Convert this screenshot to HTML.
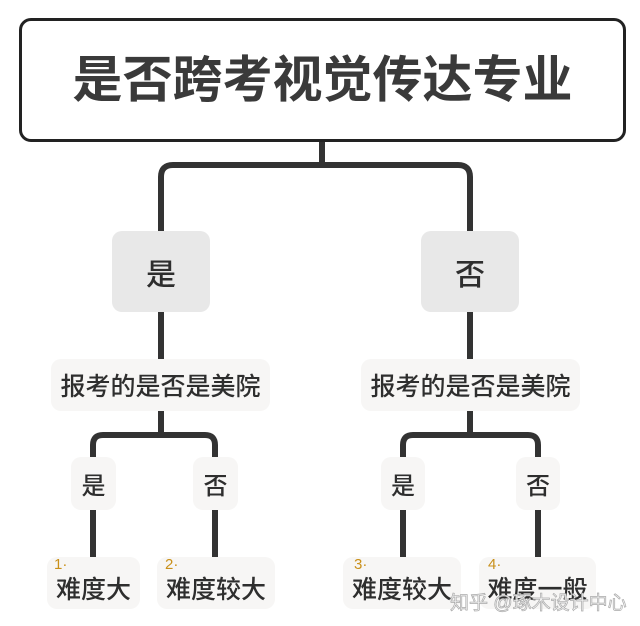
<!DOCTYPE html>
<html><head><meta charset="utf-8"><style>
*{margin:0;padding:0;box-sizing:border-box}
body{width:640px;height:626px;background:#fff;position:relative;overflow:hidden;font-family:"Liberation Sans","Noto Sans CJK SC",sans-serif;color:#2e2e2e;font-weight:500}
.b{position:absolute;display:flex;align-items:center;justify-content:center;border-radius:10px;white-space:nowrap}
.n{position:absolute;font-size:15px;color:#c9901a;line-height:1}
svg{position:absolute;left:0;top:0}
</style></head><body>
<svg width="640" height="626">
<g fill="none" stroke="#333" stroke-width="6" stroke-linejoin="round">
<path d="M322 142 V165"/>
<path d="M161 231 V177 Q161 165 173 165 H458 Q470 165 470 177 V231"/>
<path d="M161 312 V359"/><path d="M470 312 V359"/>
<path d="M161 411 V435"/><path d="M470 411 V435"/>
<path d="M93 457 V445 Q93 435 103 435 H205 Q215 435 215 445 V457"/>
<path d="M403 457 V445 Q403 435 413 435 H528 Q538 435 538 445 V457"/>
<path d="M93 510 V557"/><path d="M215 510 V557"/>
<path d="M403 510 V557"/><path d="M538 510 V557"/>
</g>
</svg>
<div class="b" style="left:19px;top:18px;width:607px;height:124px;border:3.5px solid #222;border-radius:12px;font-size:50px;font-weight:bold;color:#3a3a3a;padding-bottom:8px">是否跨考视觉传达专业</div>
<div class="b" style="left:112px;top:231px;width:98px;height:81px;background:#e8e8e8;font-size:30px">是</div>
<div class="b" style="left:421px;top:231px;width:98px;height:81px;background:#e8e8e8;font-size:30px">否</div>
<div class="b" style="left:51px;top:359px;width:219px;height:52px;background:#f7f6f5;font-size:25px">报考的是否是美院</div>
<div class="b" style="left:361px;top:359px;width:219px;height:52px;background:#f7f6f5;font-size:25px">报考的是否是美院</div>
<div class="b" style="left:71px;top:457px;width:45px;height:53px;background:#f7f6f5;font-size:24px">是</div>
<div class="b" style="left:193px;top:457px;width:45px;height:53px;background:#f7f6f5;font-size:24px">否</div>
<div class="b" style="left:381px;top:457px;width:44px;height:53px;background:#f7f6f5;font-size:24px">是</div>
<div class="b" style="left:516px;top:457px;width:44px;height:53px;background:#f7f6f5;font-size:24px">否</div>
<div class="b" style="left:47px;top:557px;width:93px;height:52px;background:#f7f6f5;font-size:25px;padding-top:10px">难度大</div>
<div class="b" style="left:157px;top:557px;width:118px;height:52px;background:#f7f6f5;font-size:25px;padding-top:10px">难度较大</div>
<div class="b" style="left:343px;top:557px;width:118px;height:52px;background:#f7f6f5;font-size:25px;padding-top:10px">难度较大</div>
<div class="b" style="left:479px;top:557px;width:117px;height:52px;background:#f7f6f5;font-size:25px;padding-top:10px">难度一般</div>
<div class="n" style="left:54px;top:557px">1·</div>
<div class="n" style="left:165px;top:557px">2·</div>
<div class="n" style="left:354px;top:557px">3·</div>
<div class="n" style="left:488px;top:557px">4·</div>
<div style="position:absolute;left:450px;top:588px;font-size:19px;color:#f4f4f4;-webkit-text-stroke:0.7px #aaa;white-space:nowrap;font-weight:400">知乎 @琢木设计中心</div>
</body></html>
